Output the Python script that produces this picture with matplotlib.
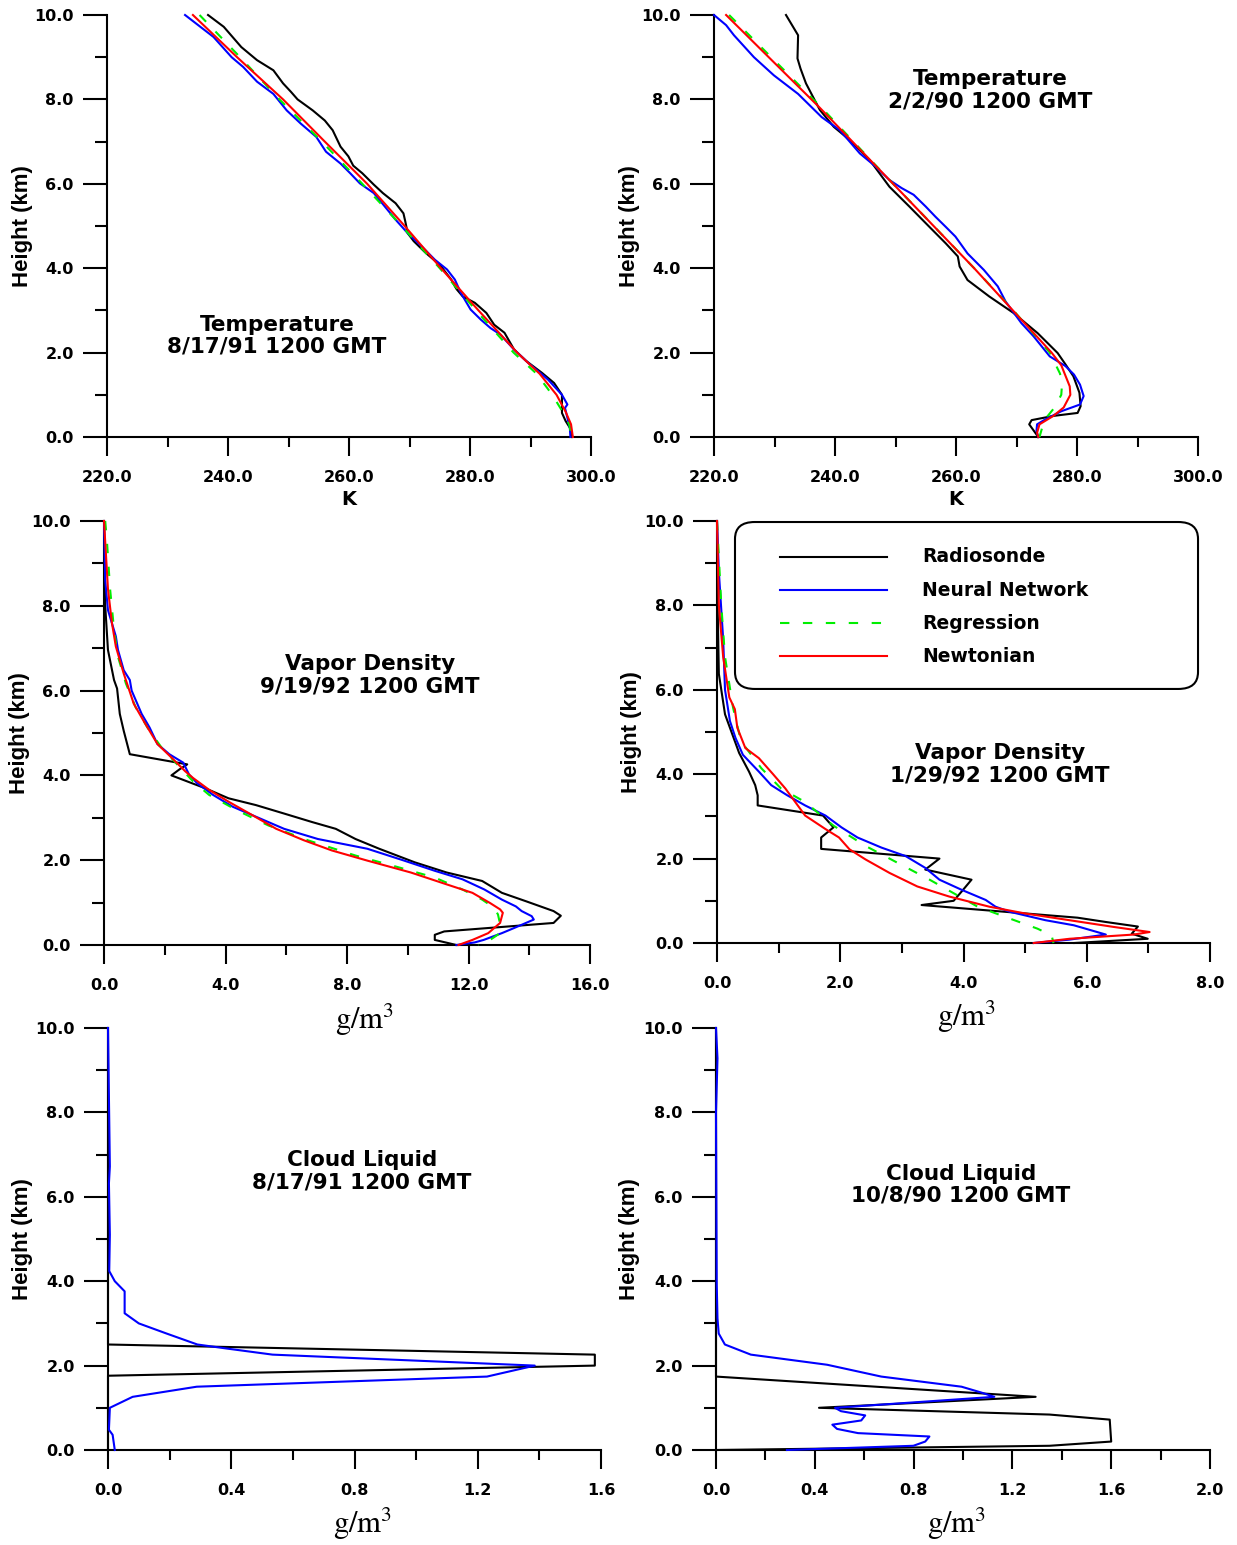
import matplotlib
matplotlib.use('Agg')
import matplotlib.pyplot as plt
from matplotlib.ticker import MultipleLocator, FormatStrFormatter
from matplotlib.patches import FancyBboxPatch
from matplotlib.lines import Line2D

plt.rcParams['mathtext.fontset'] = 'stix'

# ---------------- Panel 1: Temperature 8/17/91 ----------------
t1_rad_x = [236.7, 239.3, 242.2, 244.8, 247.5, 249.1, 250.4, 251.5, 254.0, 256.0, 257.3, 258.6, 259.9,
            260.7, 262.2, 264.1, 265.6, 267.7, 269.0, 269.3, 269.7, 270.7, 272.7, 275.0, 276.9, 277.5,
            277.8, 278.8, 280.8, 282.7, 284.0, 285.7, 287.3, 289.3, 291.9, 293.9, 295.2, 295.2, 295.8,
            296.5, 296.9]
t1_rad_h = [10.0, 9.72, 9.24, 8.93, 8.69, 8.38, 8.18, 8.0, 7.74, 7.5, 7.27, 6.88, 6.65, 6.43, 6.25,
            5.98, 5.78, 5.54, 5.3, 5.11, 4.83, 4.64, 4.36, 4.08, 3.73, 3.57, 3.5, 3.33, 3.18, 2.94, 2.66,
            2.47, 2.07, 1.8, 1.52, 1.28, 1.0, 0.57, 0.38, 0.22, 0.0]
t1_nn_x = [232.9, 237.6, 240.6, 242.5, 244.8, 247.5, 249.7, 252.0, 254.6, 256.2, 258.6, 260.2, 261.8,
           264.1, 265.7, 267.7, 268.7, 269.7, 272.0, 274.2, 276.2, 277.5, 278.5, 280.1, 281.8, 283.4,
           285.0, 287.3, 289.9, 291.6, 292.9, 295.2, 296.1, 295.7, 296.5, 296.6]
t1_nn_h = [10.0, 9.48, 9.0, 8.77, 8.42, 8.13, 7.74, 7.43, 7.11, 6.76, 6.48, 6.25, 6.01, 5.78, 5.5,
           5.15, 4.99, 4.83, 4.52, 4.2, 3.97, 3.73, 3.41, 3.02, 2.78, 2.58, 2.43, 2.07, 1.72, 1.52,
           1.36, 1.0, 0.77, 0.69, 0.22, 0.0]
t1_reg_x = [235.3, 242.0, 248.5, 255.5, 262.2, 268.7, 275.0, 281.0, 287.2, 291.0, 293.6, 295.3, 296.4, 296.8]
t1_reg_h = [10.0, 9.0, 8.0, 7.0, 6.0, 5.0, 4.0, 3.0, 2.0, 1.5, 1.0, 0.6, 0.3, 0.0]
t1_new_x = [234.2, 241.5, 249.1, 256.0, 263.0, 269.2, 275.2, 281.4, 287.8, 291.5, 294.3, 295.8, 296.7, 297.0]
t1_new_h = [10.0, 9.0, 8.0, 7.0, 6.0, 5.0, 4.0, 3.0, 2.0, 1.5, 1.0, 0.6, 0.3, 0.0]

# ---------------- Panel 2: Temperature 2/2/90 ----------------
t2_rad_x = [231.9, 233.9, 233.8, 234.3, 235.2, 236.8, 237.5, 239.8, 242.4, 245.7, 249.0, 252.3, 255.6,
            258.3, 260.3, 260.6, 261.9, 265.5, 269.5, 273.5, 276.8, 278.1, 279.4, 280.4, 280.6, 280.1,
            276.1, 272.5, 272.1, 273.1, 273.6]
t2_rad_h = [10.0, 9.52, 8.97, 8.73, 8.38, 7.94, 7.75, 7.35, 7.04, 6.57, 5.93, 5.46, 4.98, 4.59, 4.28,
            4.04, 3.72, 3.33, 2.94, 2.46, 1.99, 1.72, 1.44, 1.05, 0.73, 0.57, 0.5, 0.4, 0.3, 0.1, 0.0]
t2_nn_x = [220.0, 222.0, 223.3, 226.6, 229.9, 233.9, 237.8, 240.8, 244.1, 246.7, 249.0, 251.0, 253.0,
           255.0, 256.6, 258.3, 259.9, 261.9, 264.6, 266.9, 268.2, 270.8, 272.8, 275.5, 278.1, 279.5,
           280.5, 281.1, 280.5, 277.4, 274.8, 273.4, 273.3, 273.6]
t2_nn_h = [10.0, 9.76, 9.52, 9.0, 8.57, 8.13, 7.58, 7.27, 6.72, 6.41, 6.09, 5.9, 5.74, 5.46, 5.22,
           4.98, 4.75, 4.35, 3.96, 3.57, 3.21, 2.7, 2.39, 1.91, 1.68, 1.48, 1.24, 0.97, 0.77, 0.61,
           0.42, 0.3, 0.14, 0.0]
t2_reg_x = [222.5, 237.8, 249.6, 256.3, 263.0, 269.5, 275.5, 277.2, 277.5, 277.4, 276.3, 274.6, 273.8]
t2_reg_h = [10.0, 7.8, 6.0, 5.0, 4.0, 3.0, 2.0, 1.5, 1.2, 1.0, 0.7, 0.4, 0.0]
t2_new_x = [222.0, 237.5, 249.6, 256.3, 263.0, 269.4, 275.8, 277.4, 278.8, 278.9, 277.8, 276.1, 273.8, 273.4, 273.6]
t2_new_h = [10.0, 7.8, 6.0, 5.0, 4.0, 3.0, 2.0, 1.7, 1.2, 1.0, 0.7, 0.5, 0.3, 0.1, 0.0]

# ---------------- Panel 3: Vapor Density 9/19/92 ----------------
v1_rad_x = [0.0, 0.04, 0.13, 0.33, 0.43, 0.52, 0.65, 0.85, 2.74, 2.48, 2.22, 3.32, 4.1, 5.0, 5.93,
            6.85, 7.63, 8.28, 9.06, 10.23, 11.28, 12.45, 13.1, 13.9, 14.8, 15.04, 14.8, 11.2, 10.89,
            10.89, 11.6]
v1_rad_h = [10.0, 8.0, 6.96, 6.25, 6.05, 5.45, 5.05, 4.5, 4.26, 4.14, 4.0, 3.7, 3.46, 3.3, 3.1, 2.9,
            2.74, 2.5, 2.27, 1.95, 1.71, 1.51, 1.23, 1.03, 0.8, 0.69, 0.52, 0.32, 0.24, 0.12, 0.0]
v1_nn_x = [0.0, 0.04, 0.13, 0.39, 0.46, 0.65, 0.85, 0.91, 1.24, 1.5, 1.76, 2.15, 2.61, 2.8, 3.06,
           3.59, 4.24, 5.02, 5.93, 7.04, 8.67, 9.84, 10.89, 11.8, 12.52, 13.1, 13.56, 13.75, 14.08,
           14.15, 13.5, 13.1, 12.5, 12.2, 11.6]
v1_nn_h = [10.0, 8.6, 7.9, 7.28, 6.96, 6.48, 6.25, 6.0, 5.45, 5.13, 4.74, 4.5, 4.3, 4.02, 3.82, 3.54,
           3.26, 3.02, 2.74, 2.5, 2.27, 2.0, 1.75, 1.55, 1.31, 1.07, 0.91, 0.8, 0.68, 0.6, 0.4, 0.28,
           0.12, 0.06, 0.0]
v1_reg_x = [0.04, 0.09, 0.2, 0.33, 0.46, 0.72, 1.04, 1.43, 1.89, 2.41, 2.93, 3.46, 4.37, 5.41, 6.71,
            8.28, 9.71, 10.89, 11.8, 12.45, 12.84, 12.97, 13.07, 13.04, 12.71, 12.32]
v1_reg_h = [10.0, 9.6, 8.4, 7.44, 6.8, 6.17, 5.61, 5.13, 4.66, 4.26, 3.86, 3.54, 3.18, 2.82, 2.47,
            2.11, 1.83, 1.59, 1.31, 1.07, 0.88, 0.72, 0.4, 0.28, 0.12, 0.0]
v1_new_x = [0.0, 0.13, 0.26, 0.39, 0.65, 0.98, 1.3, 1.76, 2.28, 2.67, 2.93, 3.46, 4.1, 4.89, 5.67,
            6.58, 7.5, 8.67, 10.1, 11.28, 12.13, 12.71, 13.04, 13.13, 13.04, 12.65, 12.13, 11.67]
v1_new_h = [10.0, 8.4, 7.6, 7.04, 6.4, 5.69, 5.29, 4.74, 4.38, 4.1, 3.94, 3.66, 3.38, 3.06, 2.74,
            2.47, 2.23, 1.99, 1.71, 1.43, 1.23, 0.99, 0.84, 0.76, 0.52, 0.28, 0.12, 0.0]

# ---------------- Panel 4: Vapor Density 1/29/92 ----------------
v2_rad_x = [0.0, 0.01, 0.03, 0.13, 0.36, 0.52, 0.62, 0.66, 0.66, 1.72, 1.89, 1.69, 1.69, 3.61, 3.38,
            4.13, 3.97, 3.84, 3.32, 5.85, 6.3, 6.83, 6.73, 6.99, 5.8]
v2_rad_h = [10.0, 8.0, 6.38, 5.42, 4.5, 4.06, 3.74, 3.5, 3.26, 3.02, 2.74, 2.5, 2.23, 2.0, 1.74,
            1.5, 1.22, 1.0, 0.9, 0.6, 0.5, 0.39, 0.22, 0.1, 0.0]
v2_nn_x = [0.0, 0.03, 0.1, 0.13, 0.21, 0.3, 0.42, 0.68, 0.88, 1.14, 1.43, 1.76, 2.02, 2.28, 2.67,
           3.06, 3.38, 3.61, 3.97, 4.36, 4.52, 4.75, 5.33, 5.79, 6.31, 5.72, 5.14]
v2_nn_h = [10.0, 8.8, 7.2, 6.0, 5.26, 4.86, 4.46, 4.06, 3.74, 3.5, 3.26, 3.02, 2.74, 2.5, 2.26,
           2.06, 1.78, 1.5, 1.26, 1.02, 0.86, 0.74, 0.54, 0.42, 0.2, 0.08, 0.0]
v2_reg_x = [0.0, 0.07, 0.13, 0.26, 0.39, 0.72, 1.04, 1.43, 1.89, 2.41, 2.93, 3.45, 3.84, 4.23, 4.75,
            5.2, 5.43, 5.46]
v2_reg_h = [10.0, 8.0, 6.78, 5.58, 4.78, 4.14, 3.66, 3.34, 2.78, 2.3, 1.9, 1.5, 1.18, 0.86, 0.58,
            0.34, 0.18, 0.0]
v2_new_x = [0.0, 0.03, 0.1, 0.2, 0.29, 0.33, 0.46, 0.68, 0.91, 1.11, 1.43, 1.76, 1.98, 2.15, 2.41,
            2.8, 3.25, 3.77, 4.42, 5.0, 5.72, 6.44, 7.02, 6.76, 5.72, 5.14]
v2_new_h = [10.0, 8.0, 6.78, 5.82, 5.54, 5.1, 4.62, 4.38, 4.0, 3.66, 3.02, 2.7, 2.5, 2.22, 1.98,
            1.66, 1.34, 1.1, 0.86, 0.7, 0.54, 0.38, 0.26, 0.2, 0.1, 0.0]

# ---------------- Panel 5: Cloud Liquid 8/17/91 ----------------
c1_rad_x = [0.0, 0.0, 1.58, 1.58, 0.0, 0.0]
c1_rad_h = [10.0, 2.5, 2.26, 2.0, 1.76, 0.0]
c1_nn_x = [0.0, 0.006, 0.003, 0.006, 0.004, 0.022, 0.054, 0.054, 0.1, 0.19, 0.29, 0.39, 0.534,
           1.385, 1.23, 0.288, 0.08, 0.006, 0.003, 0.015, 0.022]
c1_nn_h = [10.0, 6.72, 6.32, 5.1, 4.24, 4.0, 3.76, 3.24, 3.0, 2.76, 2.5, 2.4, 2.26, 2.0, 1.74, 1.5,
           1.26, 1.0, 0.48, 0.36, 0.0]

# ---------------- Panel 6: Cloud Liquid 10/8/90 ----------------
c2_rad_x = [0.0, 0.0, 1.294, 0.417, 1.35, 1.594, 1.6, 1.35, 0.0]
c2_rad_h = [10.0, 1.74, 1.26, 1.0, 0.84, 0.72, 0.2, 0.1, 0.0]
c2_nn_x = [0.0, 0.006, 0.0, 0.003, 0.006, 0.011, 0.036, 0.141, 0.45, 0.669, 0.994, 1.075, 1.127,
           0.482, 0.506, 0.604, 0.588, 0.471, 0.49, 0.575, 0.864, 0.847, 0.799, 0.287]
c2_nn_h = [10.0, 9.28, 8.0, 3.92, 3.12, 2.76, 2.5, 2.26, 2.02, 1.74, 1.5, 1.36, 1.26, 1.0, 0.92,
           0.82, 0.7, 0.6, 0.5, 0.4, 0.32, 0.2, 0.1, 0.0]

series_names = ['Radiosonde', 'Neural Network', 'Regression', 'Newtonian']
series_colors = ['black', '#0000FF', '#00EE00', '#FF0000']
series_styles = ['-', '-', (0, (4.5, 6.5)), '-']

titles = ['Temperature\n8/17/91 1200 GMT', 'Temperature\n2/2/90 1200 GMT',
          'Vapor Density\n9/19/92 1200 GMT', 'Vapor Density\n1/29/92 1200 GMT',
          'Cloud Liquid\n8/17/91 1200 GMT', 'Cloud Liquid\n10/8/90 1200 GMT']

W, H = 1237, 1545
fig = plt.figure(figsize=(W / 100, H / 100), dpi=100)

# axes boxes in pixels: left, right, top, bottom
boxes = [(107, 591, 15, 437), (714, 1198, 15, 437),
         (104, 590, 521, 945), (717, 1210, 521, 943),
         (108, 601, 1028, 1450), (716, 1210, 1028, 1450)]
xlims = [(220, 300), (220, 300), (0, 16), (0, 8), (0, 1.6), (0, 2.0)]
xmajor = [20, 20, 4, 2, 0.4, 0.4]
xminor = [10, 10, 2, 1, 0.2, 0.2]
title_pos = [(0.351, 0.240), (0.570, 0.822), (0.547, 0.636), (0.574, 0.424), (0.515, 0.661), (0.496, 0.628)]
xlabels = ['K', 'K', r'$\mathrm{g/m}^{3}$', r'$\mathrm{g/m}^{3}$', r'$\mathrm{g/m}^{3}$', r'$\mathrm{g/m}^{3}$']
xlabel_x = [0.5, 0.5, 0.537, 0.507, 0.517, 0.488]

data = [
    [(t1_rad_x, t1_rad_h), (t1_nn_x, t1_nn_h), (t1_reg_x, t1_reg_h), (t1_new_x, t1_new_h)],
    [(t2_rad_x, t2_rad_h), (t2_nn_x, t2_nn_h), (t2_reg_x, t2_reg_h), (t2_new_x, t2_new_h)],
    [(v1_rad_x, v1_rad_h), (v1_nn_x, v1_nn_h), (v1_reg_x, v1_reg_h), (v1_new_x, v1_new_h)],
    [(v2_rad_x, v2_rad_h), (v2_nn_x, v2_nn_h), (v2_reg_x, v2_reg_h), (v2_new_x, v2_new_h)],
    [(c1_rad_x, c1_rad_h), (c1_nn_x, c1_nn_h)],
    [(c2_rad_x, c2_rad_h), (c2_nn_x, c2_nn_h)],
]

tick_font = {'family': 'DejaVu Sans', 'weight': 'bold', 'size': 11.5}

for i, (l, r, t, b) in enumerate(boxes):
    ax = fig.add_axes([l / W, 1 - b / H, (r - l) / W, (b - t) / H])
    for j, (xs, hs) in enumerate(data[i]):
        ax.plot(xs, hs, color=series_colors[j], linestyle=series_styles[j], lw=1.5,
                clip_on=False, zorder=3 + j)
    ax.set_xlim(*xlims[i])
    ax.set_ylim(0, 10)
    for s in ['top', 'right']:
        ax.spines[s].set_visible(False)
    for s in ['left', 'bottom']:
        ax.spines[s].set_linewidth(1.5)
    ax.xaxis.set_major_locator(MultipleLocator(xmajor[i]))
    ax.xaxis.set_minor_locator(MultipleLocator(xminor[i]))
    ax.yaxis.set_major_locator(MultipleLocator(2))
    ax.yaxis.set_minor_locator(MultipleLocator(1))
    ax.xaxis.set_major_formatter(FormatStrFormatter('%.1f'))
    ax.yaxis.set_major_formatter(FormatStrFormatter('%.1f'))
    ax.tick_params(axis='y', which='major', direction='out', length=17, width=1.5, pad=7)
    ax.tick_params(axis='y', which='minor', direction='out', length=8.5, width=1.5)
    ax.tick_params(axis='x', which='major', direction='out', length=14, width=1.5, pad=10)
    ax.tick_params(axis='x', which='minor', direction='out', length=7, width=1.5)
    for lab in ax.get_xticklabels() + ax.get_yticklabels():
        lab.set_fontproperties(tick_font)
    ax.set_ylabel('Height (km)', fontsize=16, fontweight='bold', family='Liberation Sans')
    ax.yaxis.set_label_coords(-0.153, 0.5)
    if xlabels[i] == 'K':
        ax.set_xlabel('K', fontsize=14, fontweight='bold', family='DejaVu Sans')
        ax.xaxis.set_label_coords(xlabel_x[i], -0.125)
    else:
        ax.set_xlabel(xlabels[i], fontsize=22)
        ax.xaxis.set_label_coords(xlabel_x[i], -0.133)
    ax.text(title_pos[i][0], title_pos[i][1], titles[i], transform=ax.transAxes, ha='center',
            va='center', fontsize=15.5, fontweight='bold', family='DejaVu Sans', linespacing=1.12)
    ax.patch.set_alpha(0)

    if i == 3:
        box = FancyBboxPatch((0.0365, 0.602), 0.9392, 0.3956, boxstyle='round,pad=0,rounding_size=0.04',
                             transform=ax.transAxes, facecolor='white', edgecolor='black', lw=1.5,
                             zorder=10, clip_on=False)
        ax.add_patch(box)
        rows = [0.915, 0.836, 0.758, 0.680]
        for j, name in enumerate(series_names):
            ln = Line2D([0.128, 0.345], [rows[j], rows[j]], transform=ax.transAxes,
                        color=series_colors[j], linestyle=series_styles[j], lw=1.5, zorder=11)
            ax.add_line(ln)
            ax.text(0.416, rows[j], name, transform=ax.transAxes, ha='left', va='center',
                    fontsize=13.5, fontweight='bold', family='DejaVu Sans', zorder=12)

fig.savefig('out.png', dpi=100)
